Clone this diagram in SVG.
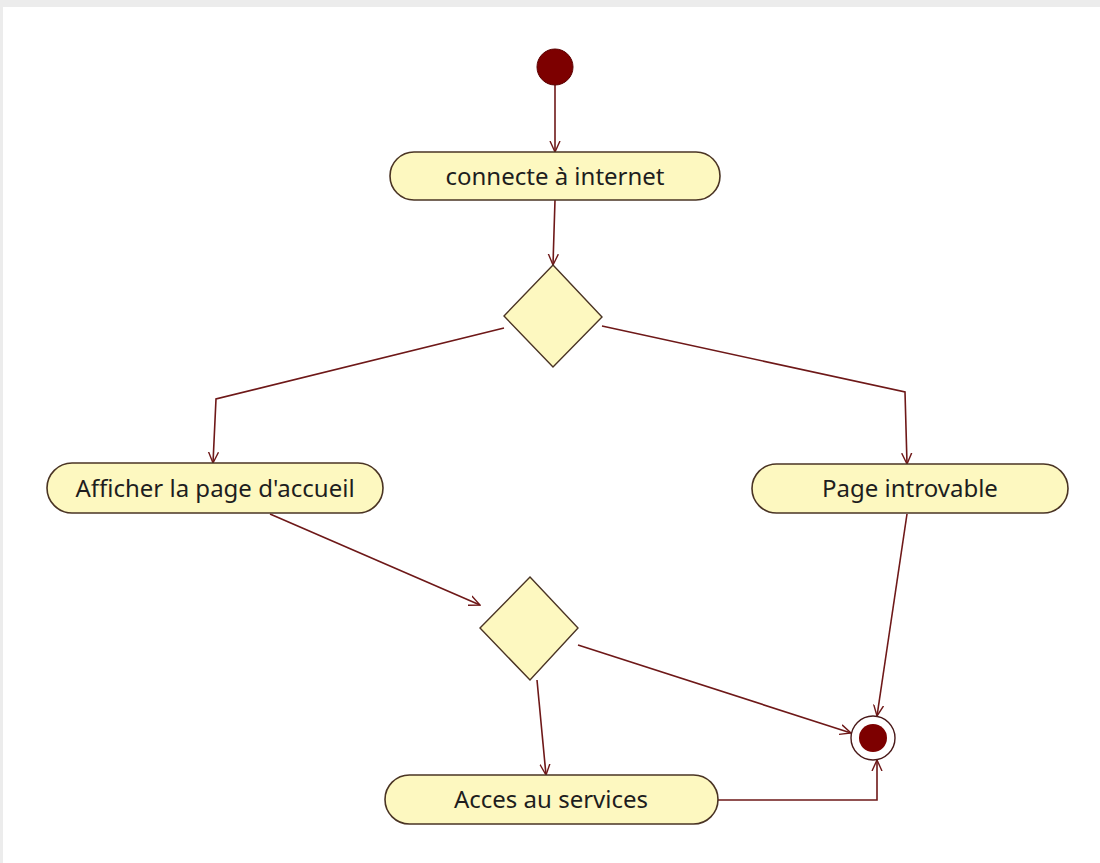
<svg xmlns="http://www.w3.org/2000/svg" width="1100" height="863" viewBox="0 0 1100 863">
<style>
.box{fill:#fdf8c0;stroke:#4a3424;stroke-width:1.6}
.dia{fill:#fdf8c0;stroke:#4a3424;stroke-width:1.4}
.lbl{font-family:"Noto Sans",sans-serif;font-size:24px;fill:#1e1e1e;text-anchor:middle}
.edge{fill:none;stroke:#6e1818;stroke-width:1.6;marker-end:url(#arr)}
</style>
<defs>
<marker id="arr" viewBox="0 0 12 12" refX="11" refY="6" markerWidth="12" markerHeight="12" markerUnits="userSpaceOnUse" orient="auto">
<path d="M0,1 L11,6 L0,11" fill="none" stroke="#6e1818" stroke-width="1.4"/>
</marker>
</defs>
<rect x="0" y="0" width="1100" height="863" fill="#ececec"/>
<rect x="3" y="7" width="1097" height="856" fill="#ffffff"/>
<g id="connectors">
<path class="edge" d="M555,85 L555,152"/>
<path class="edge" d="M555,200 L553,265"/>
<path class="edge" d="M504,328 L216,399 L213,463"/>
<path class="edge" d="M602,326 L905,392 L907,464"/>
<path class="edge" d="M270,514 L480,605"/>
<path class="edge" d="M578,645 L851,733"/>
<path class="edge" d="M537,680 L546,775"/>
<path class="edge" d="M907,514 L877,716"/>
<path class="edge" d="M718,800 L877,800 L877,760"/>
</g>
<g id="start"><circle cx="555" cy="67" r="18" fill="#7d0000" stroke="#5a0000" stroke-width="1"/></g>
<g id="n1"><rect class="box" x="390" y="152" width="330" height="48" rx="24"/><text class="lbl" x="555" y="185">connecte à internet</text></g>
<g id="d1"><polygon class="dia" points="553,265 602,317 553,367 504,316"/></g>
<g id="n2"><rect class="box" x="47" y="463" width="336" height="50" rx="25"/><text class="lbl" x="215" y="497">Afficher la page d'accueil</text></g>
<g id="n3"><rect class="box" x="752" y="464" width="316" height="49" rx="24.5"/><text class="lbl" x="910" y="497">Page introvable</text></g>
<g id="d2"><polygon class="dia" points="530,577 578,628 530,680 480,628"/></g>
<g id="n4"><rect class="box" x="385" y="775" width="333" height="49" rx="24.5"/><text class="lbl" x="551" y="808">Acces au services</text></g>
<g id="end"><circle cx="873" cy="738" r="22" fill="#ffffff" stroke="#4a1a1a" stroke-width="1.4"/><circle cx="873" cy="738" r="14" fill="#7d0000"/></g>
</svg>
